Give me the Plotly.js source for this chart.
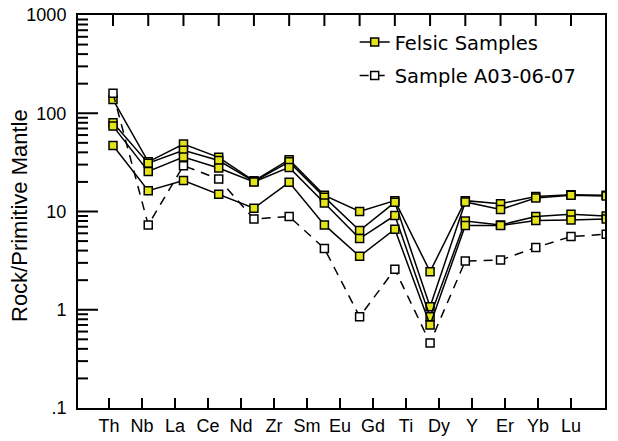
<!DOCTYPE html>
<html>
<head>
<meta charset="utf-8">
<script src="https://cdn.plot.ly/plotly-3.0.1.min.js"></script>
<style>html,body{margin:0;padding:0;background:#fff}#chart{width:618px;height:441px}</style>
</head>
<body>
<div id="chart"></div>
<script>
// Elements (x categories)
const elements = ["Th","Nb","La","Ce","Nd","Zr","Sm","Eu","Gd","Ti","Dy","Y","Er","Yb","Lu"];
// Felsic samples (rock / primitive mantle)
const felsic1 = [138, 32, 48.6, 35.6, 20.5, 33.7, 14.6, 10.0, 12.9, 2.44, 12.9, 12.0, 14.2, 14.8, 14.6];
const felsic2 = [80, 31, 41.9, 33.0, 20.2, 32.0, 14.0, 6.4, 12.4, 1.07, 12.5, 10.5, 13.7, 14.6, 14.4];
const felsic3 = [74, 25.6, 35.8, 27.7, 20.0, 28.1, 12.2, 5.3, 9.1, 0.85, 8.0, 7.3, 8.9, 9.4, 9.0];
const felsic4 = [47, 16.3, 20.7, 15.0, 10.8, 19.8, 7.3, 3.5, 6.6, 0.70, 7.2, 7.2, 8.1, 8.2, 8.4];
// Sample A03-06-07
const sampleA = [160, 7.3, 29.3, 21.4, 8.4, 8.9, 4.2, 0.85, 2.58, 0.46, 3.14, 3.2, 4.3, 5.56, 5.87];
// Y-axis ticks
const yMajor = [0.1, 1, 10, 100, 1000];
const yMajorText = [".1", "1", "10", "100", "1000"];

// In the original figure the plotted points sit on a slightly wider grid than the
// element labels along the bottom; data position = offset + step * element index
const dataOffset = 0.121, dataStep = 1.0676;
const idx = elements.map((_, i) => i);
const xData = idx.map(i => dataOffset + dataStep * i);
const xRange = [-0.94, 15.03];
const yLogRange = [-1, 3];

const yMinor = [];
for (let d = 0.1; d < 1000; d *= 10) for (let k = 2; k <= 9; k++) yMinor.push(d * k);

const yellow = "#e4e41a";
const traces = [];
[felsic1, felsic2, felsic3, felsic4].forEach((s, i) => {
  traces.push({
    x: xData, y: s, name: "Felsic Samples", legendgroup: "f", showlegend: i === 0,
    mode: "lines+markers",
    line: {color: "#000", width: 1.5},
    marker: {symbol: "square", size: 8, color: yellow, line: {color: "#000", width: 1.5}}
  });
});
traces.push({
  x: xData, y: sampleA, name: "Sample A03-06-07", legendgroup: "s",
  mode: "lines+markers",
  line: {color: "#000", width: 1.5, dash: "9px,7px"},
  marker: {symbol: "square", size: 8, color: "#fff", line: {color: "#000", width: 1.5}}
});

// ---- tick marks drawn as thin line traces (axis decoration) ----
const plotW = 618 - 78 - 13, plotH = 441 - 15 - 33;
const xPerPx = (xRange[1] - xRange[0]) / plotW;
const decPerPx = (yLogRange[1] - yLogRange[0]) / plotH;
const tx = [], ty = [];
// left ticks: long at decades, short at 2..9
yMajor.slice(1, 4).forEach(v => { tx.push(xRange[0], xRange[0] + 20 * xPerPx, null); ty.push(v, v, null); });
yMinor.forEach(v => { tx.push(xRange[0], xRange[0] + 10 * xPerPx, null); ty.push(v, v, null); });
// bottom ticks at the element labels
const yBot = Math.pow(10, yLogRange[0]), yBotIn = Math.pow(10, yLogRange[0] + 10 * decPerPx);
idx.forEach(i => { tx.push(i, i, null); ty.push(yBot, yBotIn, null); });
// top ticks at the data grid (14 of them, as in the original)
const yTop = Math.pow(10, yLogRange[1]), yTopIn = Math.pow(10, yLogRange[1] - 11 * decPerPx);
xData.slice(0, 14).forEach(x => { tx.push(x, x, null); ty.push(yTop, yTopIn, null); });
traces.push({
  x: tx, y: ty, mode: "lines", showlegend: false, hoverinfo: "skip",
  connectgaps: false, line: {color: "#000", width: 2}
});

const layout = {
  width: 618, height: 441,
  margin: {l: 78, r: 13, t: 15, b: 33},
  font: {family: "Liberation Sans, Arial, sans-serif", color: "#000", size: 18},
  showlegend: true,
  legend: {
    x: 0.525, y: 0.98, xanchor: "left", yanchor: "top",
    bgcolor: "rgba(0,0,0,0)", borderwidth: 0,
    font: {family: "DejaVu Sans, sans-serif", size: 19.5, color: "#000"},
    traceorder: "grouped", tracegroupgap: 5
  },
  xaxis: {
    range: xRange, showgrid: false, zeroline: false,
    tickvals: idx, ticktext: elements, ticks: "",
    showline: true, linewidth: 2, linecolor: "#000", mirror: true,
    tickfont: {size: 18}
  },
  yaxis: {
    type: "log", range: yLogRange, showgrid: false, zeroline: false,
    tickvals: yMajor, ticktext: yMajorText, ticks: "",
    showline: true, linewidth: 2, linecolor: "#000", mirror: true,
    tickfont: {size: 18}, ticklabelstandoff: 6
  },
  annotations: [{
    text: "Rock/Primitive Mantle", textangle: -90, showarrow: false,
    xref: "paper", yref: "paper", x: (20 - 78) / plotW, y: 1 - (216 - 15) / plotH,
    xanchor: "center", yanchor: "middle", font: {size: 22}
  }]
};

Plotly.newPlot("chart", traces, layout, {displayModeBar: false});
</script>
</body>
</html>
